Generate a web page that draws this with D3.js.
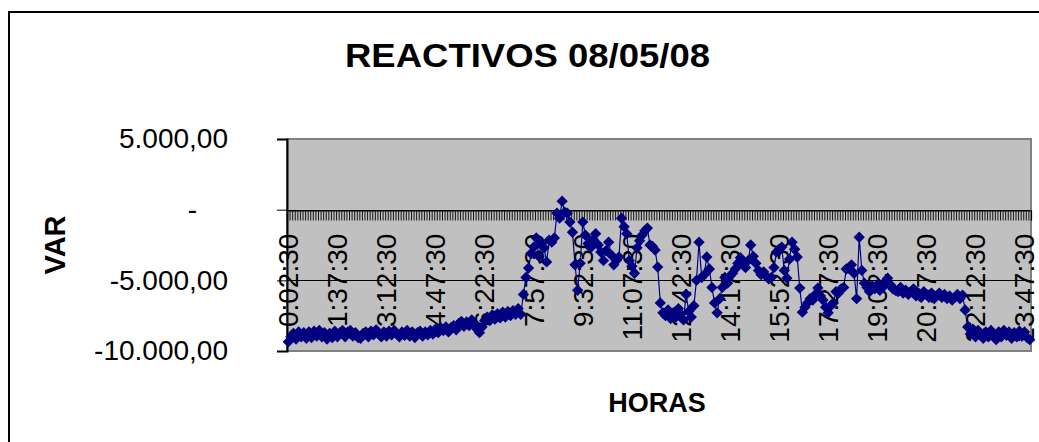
<!DOCTYPE html>
<html>
<head>
<meta charset="utf-8">
<script src="https://cdn.jsdelivr.net/npm/d3@7"></script>
<style>
  html, body { margin: 0; padding: 0; background: #fff; }
  svg { display: block; font-family: "Liberation Sans", Arial, sans-serif; }
</style>
</head>
<body>
<svg id="chart" width="1039" height="442"></svg>
<script>
// Reactive power readings, one every 5 minutes starting at 0:02:30
const title = "REACTIVOS 08/05/08";
const yTitle = "VAR";
const xTitle = "HORAS";

const yTicks = [5000, 0, -5000, -10000];
const xTickLabels = ["0:02:30", "1:37:30", "3:12:30", "4:47:30", "6:22:30", "7:57:30",
  "9:32:30", "11:07:30", "12:42:30", "14:17:30", "15:52:30", "17:27:30",
  "19:02:30", "20:37:30", "22:12:30", "23:47:30"];

const vars = [
  -9350, -9000, -8750, -9150, -8650, -9000, -8700, -9100, -8650, -9050,
  -8600, -8950, -8550, -9000, -8700, -9150, -8750, -9050, -8600, -9000,
  -8700, -8550, -9000, -8650, -8550, -8950, -8700, -9050, -9100, -8750,
  -8650, -9000, -8600, -8850, -8500, -8800, -9000, -8650, -8950, -8600,
  -8850, -8550, -8800, -9000, -8650, -8900, -8550, -8950, -8650, -9050,
  -8700, -8600, -8950, -8650, -8850, -8550, -8800, -8450, -8700, -8350,
  -8550, -8300, -8650, -8350, -8200, -8500, -8050, -7900, -8250, -7950,
  -8200, -7800, -8100, -8450, -8700, -8300, -7850, -7600, -7850, -7450,
  -7750, -7350, -7650, -7250, -7600, -7200, -7500, -7150, -7400, -7000,
  -7400, -6000, -4800, -4130, -3100, -2650, -2000, -3300, -2400, -2700,
  -3700, -2150, -2300, -2000, -250, -600, 600, -180, -250, -880,
  -1600, -3900, -5700, -3800, -880, -1800, -2400, -2700, -2100, -1700,
  -2500, -3000, -3600, -2900, -2300, -3200, -3900, -3600, -3350, -600,
  -1200, -1700, -3600, -4000, -4500, -2700, -2200, -1800, -1500, -1300,
  -2500, -2600, -2860, -4060, -6600, -7300, -7500, -7100, -7700, -7300,
  -7600, -7000, -7400, -7800, -6000, -7200, -7600, -6800, -5000, -2300,
  -4800, -4600, -3350, -4200, -5500, -6600, -7300, -6300, -5500, -4800,
  -5200, -4700, -4500, -4200, -3800, -3400, -3900, -4100, -3600, -2500,
  -3300, -3800, -4300, -4600, -4400, -4700, -4900, -4800, -4100, -3000,
  -2800, -2650, -4300, -4850, -3500, -2300, -2800, -3350, -5550, -7250,
  -6900, -6600, -6300, -6400, -6000, -5550, -6100, -6400, -6900, -7300,
  -6800, -6600, -5800, -5900, -5600, -5500, -4200, -4150, -3900, -4500,
  -6300, -1950, -4300, -5200, -5500, -5800, -5400, -5600, -5300, -5700,
  -5500, -5100, -4850, -5300, -5600, -5700, -5800, -5500, -5900, -5700,
  -6000, -5800, -5600, -6100, -5900, -6200, -5800, -6000, -6200, -5900,
  -6300, -6100, -5900, -6200, -6000, -6300, -6100, -6400, -6200, -6000,
  -6300, -6050, -7100, -8300, -8800, -8450, -9000, -8550, -8900, -9100,
  -8650, -9000, -8550, -8900, -9200, -8650, -9000, -8550, -8900, -8650,
  -9100, -8700, -9000, -8600, -8950, -8650, -9050, -9200
];

// Category labels: 0:02:30, 0:07:30, ... every five minutes
const categories = vars.map((_, i) => {
  const s = 150 + i * 300;
  const h = Math.floor(s / 3600), m = Math.floor((s % 3600) / 60), sec = s % 60;
  return h + ":" + String(m).padStart(2, "0") + ":" + String(sec).padStart(2, "0");
});

const svg = d3.select("#chart");
const plot = { left: 287, right: 1031, top: 139, bottom: 351 };

// Outer chart frame
svg.append("rect")
  .attr("x", 9).attr("y", 12).attr("width", 1100).attr("height", 500)
  .attr("fill", "#fff").attr("stroke", "#000").attr("stroke-width", 2);

const x = d3.scaleBand().domain(categories).range([plot.left, plot.right]).padding(0);
const xIdx = d3.scaleLinear().domain([0, categories.length]).range([plot.left, plot.right]);
const y = d3.scaleLinear().domain([-10000, 5000]).range([plot.bottom, plot.top]);

// Plot area
svg.append("rect")
  .attr("x", plot.left).attr("y", plot.top)
  .attr("width", plot.right - plot.left).attr("height", plot.bottom - plot.top)
  .attr("fill", "#c0c0c0");

// Horizontal gridlines
svg.append("g").selectAll("line").data(yTicks).join("line")
  .attr("x1", plot.left).attr("x2", plot.right)
  .attr("y1", d => Math.round(y(d)) + 0.5).attr("y2", d => Math.round(y(d)) + 0.5)
  .attr("stroke", "#000").attr("stroke-width", 1);

// Plot area border
svg.append("rect")
  .attr("x", plot.left).attr("y", plot.top)
  .attr("width", plot.right - plot.left).attr("height", plot.bottom - plot.top)
  .attr("fill", "none").attr("stroke", "#808080").attr("stroke-width", 2);

// Y axis
const fmt = v => v === 0 ? "-" : d3.format(",.2f")(v).replace(/,/g, "#").replace(/\./g, ",").replace(/#/g, ".").replace("−", "-");
const yAxis = svg.append("g")
  .attr("transform", `translate(${plot.left},0)`)
  .call(d3.axisLeft(y).tickValues(yTicks).tickSize(10).tickPadding(49).tickFormat(fmt));
yAxis.select(".domain").attr("stroke", "#000").attr("stroke-width", 2);
yAxis.selectAll(".tick line").attr("stroke", "#000");
yAxis.selectAll(".tick text")
  .attr("font-size", 28).attr("font-family", "Liberation Sans, Arial, sans-serif")
  .attr("fill", "#000")
  .attr("dx", d => d === 0 ? -31 : 0);

// X axis category boundary ticks along the zero line
const xAxisTicks = svg.append("g")
  .attr("transform", `translate(0,${Math.round(y(0)) + 0.5})`)
  .call(d3.axisBottom(xIdx).tickValues(d3.range(categories.length + 1)).tickSize(10).tickFormat(""));
xAxisTicks.select(".domain").attr("stroke", "#000").attr("stroke-width", 1.2);
xAxisTicks.selectAll(".tick line").attr("stroke", "#000").attr("stroke-width", 0.9);

// X axis labels, rotated
const xAxisLabels = svg.append("g")
  .attr("transform", `translate(0,${y(0)})`)
  .call(d3.axisBottom(x).tickValues(xTickLabels).tickSize(0));
xAxisLabels.select(".domain").remove();
xAxisLabels.selectAll(".tick text")
  .attr("font-size", 28).attr("font-family", "Liberation Sans, Arial, sans-serif")
  .attr("fill", "#000")
  .attr("text-anchor", "end")
  .attr("transform", "rotate(-90)")
  .attr("x", -24).attr("y", 0).attr("dy", "0.35em");

// Series line and diamond markers
const line = d3.line().x((d, i) => x(categories[i]) + x.bandwidth() / 2).y(d => y(d));
svg.append("path").datum(vars)
  .attr("d", line).attr("fill", "none").attr("stroke", "#000080").attr("stroke-width", 1.2);
const diamond = d3.symbol(d3.symbolSquare, 64);
svg.append("g").selectAll("path").data(vars).join("path")
  .attr("d", diamond)
  .attr("transform", (d, i) => `translate(${x(categories[i]) + x.bandwidth() / 2},${y(d)}) rotate(45)`)
  .attr("fill", "#000080");

// Titles
svg.append("text")
  .attr("x", 527.5).attr("y", 67)
  .attr("text-anchor", "middle").attr("font-weight", "bold").attr("font-size", 34)
  .attr("textLength", 365).attr("lengthAdjust", "spacingAndGlyphs")
  .text(title);

svg.append("text")
  .attr("transform", "translate(65,245) rotate(-90)")
  .attr("text-anchor", "middle").attr("font-weight", "bold").attr("font-size", 29)
  .text(yTitle);

svg.append("text")
  .attr("x", 657).attr("y", 412)
  .attr("text-anchor", "middle").attr("font-weight", "bold").attr("font-size", 27)
  .text(xTitle);
</script>
</body>
</html>
